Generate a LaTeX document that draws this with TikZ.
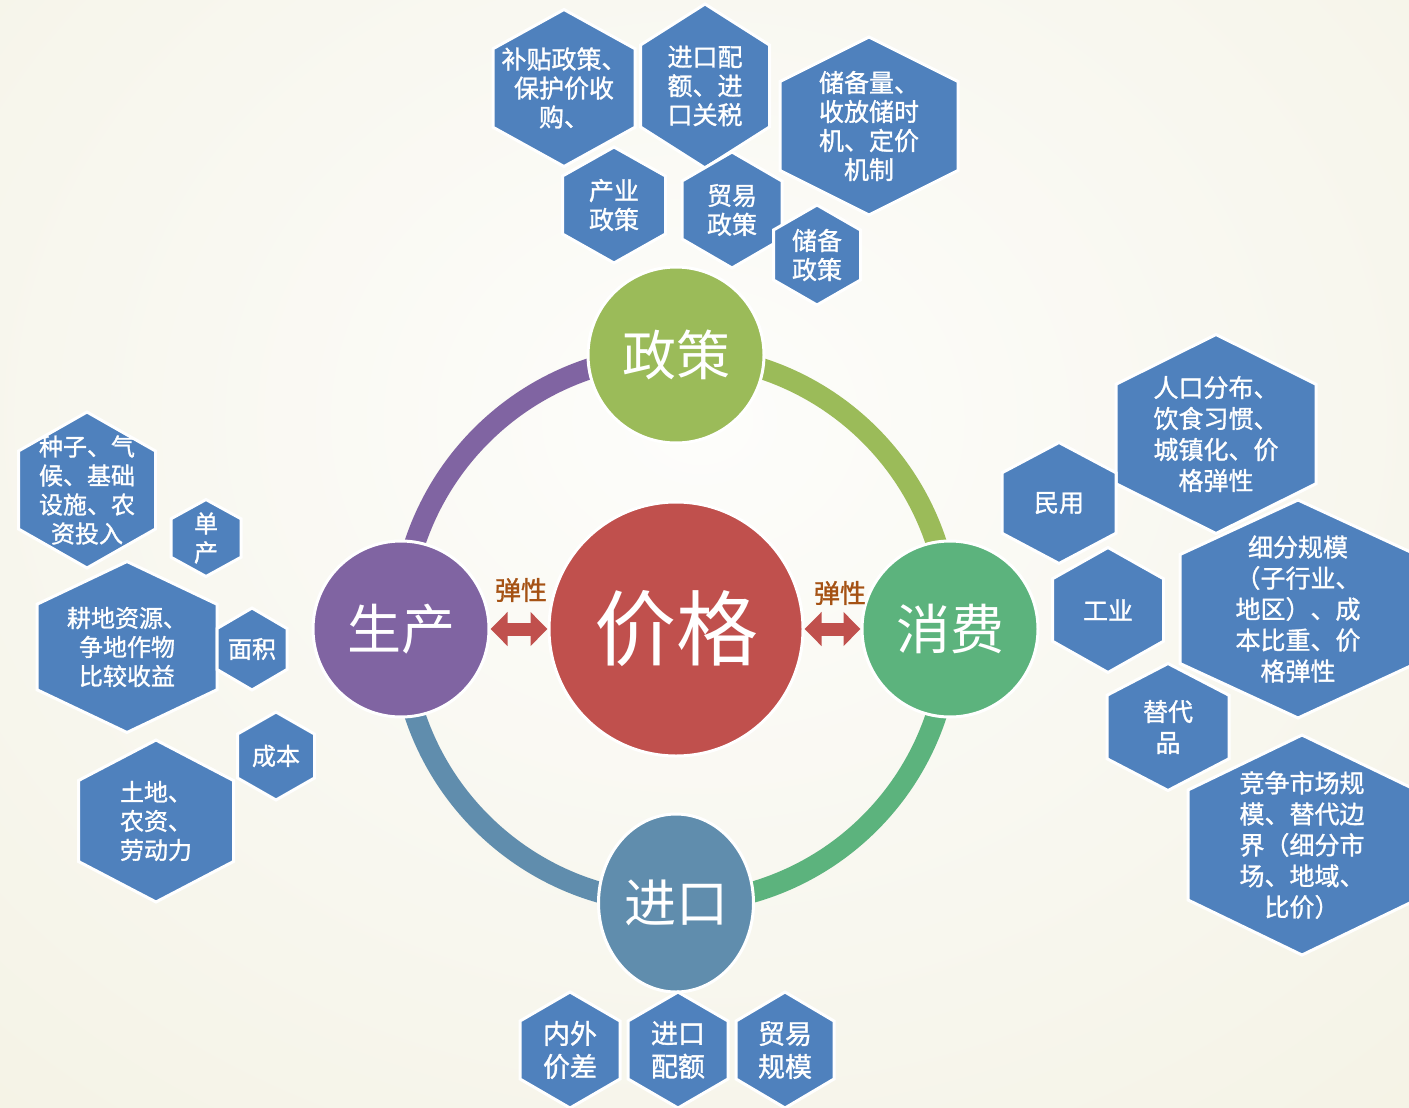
\documentclass[tikz,border=0pt]{standalone}
\usepackage{fontspec}
\setmainfont{Noto Sans CJK SC}
\newfontfamily\hexfont{Noto Sans CJK SC}[FakeBold=1.2]
\usetikzlibrary{shapes.geometric,arrows.meta,positioning}
\pgfdeclarelayer{back}
\pgfdeclarelayer{arcs}
\pgfsetlayers{back,arcs,main}

\definecolor{bglight}{RGB}{253,253,251}
\definecolor{bgcream}{RGB}{238,235,214}
\definecolor{hexblue}{RGB}{79,129,189}
\definecolor{pricered}{RGB}{192,80,77}
\definecolor{policygreen}{RGB}{155,187,89}
\definecolor{prodpurple}{RGB}{128,100,162}
\definecolor{consgreen}{RGB}{92,179,125}
\definecolor{impblue}{RGB}{96,141,173}
\definecolor{elasticbrown}{RGB}{165,82,20}

\tikzset{
  hub/.style={circle,draw=white,line width=3pt,text=white,inner sep=0pt,
    minimum size=176pt,font=\fontsize{54}{60}\selectfont},
  hexa/.style={fill=hexblue,draw=white,line width=3pt,line join=miter},
  hextext/.style={text=white,align=center,inner sep=0pt},
  ring/.style={line width=21pt,draw=#1},
  twoway/.style={draw=pricered,line width=13pt,
    {Triangle[width=33pt,length=17pt]}-{Triangle[width=33pt,length=17pt]}},
  elastic/.style={text=elasticbrown,font=\hexfont\fontsize{26}{30}\selectfont}
}

\begin{document}
\begin{tikzpicture}[x=1pt,y=-1pt]
  \useasboundingbox (0,0) rectangle (1409,1108);
  \begin{pgfonlayer}{back}
    \clip (0,0) rectangle (1409,1108);
    \shade[inner color=bglight,outer color=bgcream] (-1200,-1180) rectangle (2600,2020);
  \end{pgfonlayer}

  % price in the middle, four drivers round it
  \node[hub,fill=pricered,minimum size=254pt,font=\fontsize{82}{90}\selectfont] (jiage) at (676,629) {价格};
  \node[hub,fill=policygreen] (zhengce) at (676,355) {政策};
  \node[hub,fill=prodpurple] (shengchan) at (401,629) {生产};
  \node[hub,fill=consgreen] (xiaofei) at (950,629) {消费};
  \node[hub,ellipse,fill=impblue,minimum width=155pt,minimum height=178pt,
    font=\fontsize{52}{58}\selectfont] (jinkou) at (676,903) {进口};

  \begin{pgfonlayer}{arcs}
    \draw[ring=prodpurple] (shengchan.center) to[bend left=45] (zhengce.center);
    \draw[ring=policygreen] (zhengce.center) to[bend left=45] (xiaofei.center);
    \draw[ring=consgreen] (xiaofei.center) to[bend left=45] (jinkou.center);
    \draw[ring=impblue] (jinkou.center) to[bend left=45] (shengchan.center);
  \end{pgfonlayer}

  \draw[twoway] (shengchan) -- (jiage);
  \draw[twoway] (jiage) -- (xiaofei);
  \node[elastic] (tanxing-l) at (521,590) {弹性};
  \node[elastic] (tanxing-r) at (840,593) {弹性};

  % policy
  \begin{scope}[hextext/.append style={font=\hexfont\fontsize{25}{29}\selectfont}]
    \foreach \cx/\cy/\w/\h/\txt [count=\i] in {
        564/88/142/157/补贴政策、\\保护价收\\购、,
        705/86/129/164/进口配\\额、进\\口关税,
        869/126/178/178/储备量、\\收放储时\\机、定价\\机制,
        614/205/103/116/产业\\政策,
        732/210/100/116/贸易\\政策,
        817/255/87/100/储备\\政策} {
      \draw[hexa] ({\cx-\w/2},{\cy-\h/4}) -- (\cx,{\cy-\h/2}) -- ({\cx+\w/2},{\cy-\h/4})
        -- ({\cx+\w/2},{\cy+\h/4}) -- (\cx,{\cy+\h/2}) -- ({\cx-\w/2},{\cy+\h/4}) -- cycle;
      \node[hextext] (zc-\i) at (\cx,\cy) {\txt};
    }
  \end{scope}

  % production
  \begin{scope}[hextext/.append style={font=\hexfont\fontsize{24}{29}\selectfont}]
    \foreach \cx/\cy/\w/\h/\txt [count=\i] in {
        87/490/137/156/种子、气\\候、基础\\设施、农\\资投入,
        206/538/70/77/单\\产,
        127/647/180/171/耕地资源、\\争地作物\\比较收益,
        252/649/70/82/面积,
        276/756/77/88/成本,
        156/821/155/162/土地、\\农资、\\劳动力} {
      \draw[hexa] ({\cx-\w/2},{\cy-\h/4}) -- (\cx,{\cy-\h/2}) -- ({\cx+\w/2},{\cy-\h/4})
        -- ({\cx+\w/2},{\cy+\h/4}) -- (\cx,{\cy+\h/2}) -- ({\cx-\w/2},{\cy+\h/4}) -- cycle;
      \node[hextext] (sc-\i) at (\cx,\cy) {\txt};
    }
  \end{scope}

  % consumption
  \begin{scope}[hextext/.append style={font=\hexfont\fontsize{25}{31}\selectfont}]
    \foreach \cx/\cy/\w/\h/\txt [count=\i] in {
        1216/434/200/199/人口分布、\\饮食习惯、\\城镇化、价\\格弹性,
        1059/503/114/121/民用,
        1108/610/111/125/工业,
        1298/609/236/218/细分规模\\（子行业、\\地区）、成\\本比重、价\\格弹性,
        1168/727/122/127/替代\\品,
        1302/845/228/220/竞争市场规\\模、替代边\\界（细分市\\场、地域、\\比价）} {
      \draw[hexa] ({\cx-\w/2},{\cy-\h/4}) -- (\cx,{\cy-\h/2}) -- ({\cx+\w/2},{\cy-\h/4})
        -- ({\cx+\w/2},{\cy+\h/4}) -- (\cx,{\cy+\h/2}) -- ({\cx-\w/2},{\cy+\h/4}) -- cycle;
      \node[hextext] (xf-\i) at (\cx,\cy) {\txt};
    }
  \end{scope}

  % import
  \begin{scope}[hextext/.append style={font=\hexfont\fontsize{27}{33}\selectfont}]
    \foreach \cx/\cy/\w/\h/\txt [count=\i] in {
        570/1050/100/116/内外\\价差,
        678/1050/100/116/进口\\配额,
        785/1050/98/116/贸易\\规模} {
      \draw[hexa] ({\cx-\w/2},{\cy-\h/4}) -- (\cx,{\cy-\h/2}) -- ({\cx+\w/2},{\cy-\h/4})
        -- ({\cx+\w/2},{\cy+\h/4}) -- (\cx,{\cy+\h/2}) -- ({\cx-\w/2},{\cy+\h/4}) -- cycle;
      \node[hextext] (jk-\i) at (\cx,\cy) {\txt};
    }
  \end{scope}
\end{tikzpicture}
\end{document}
